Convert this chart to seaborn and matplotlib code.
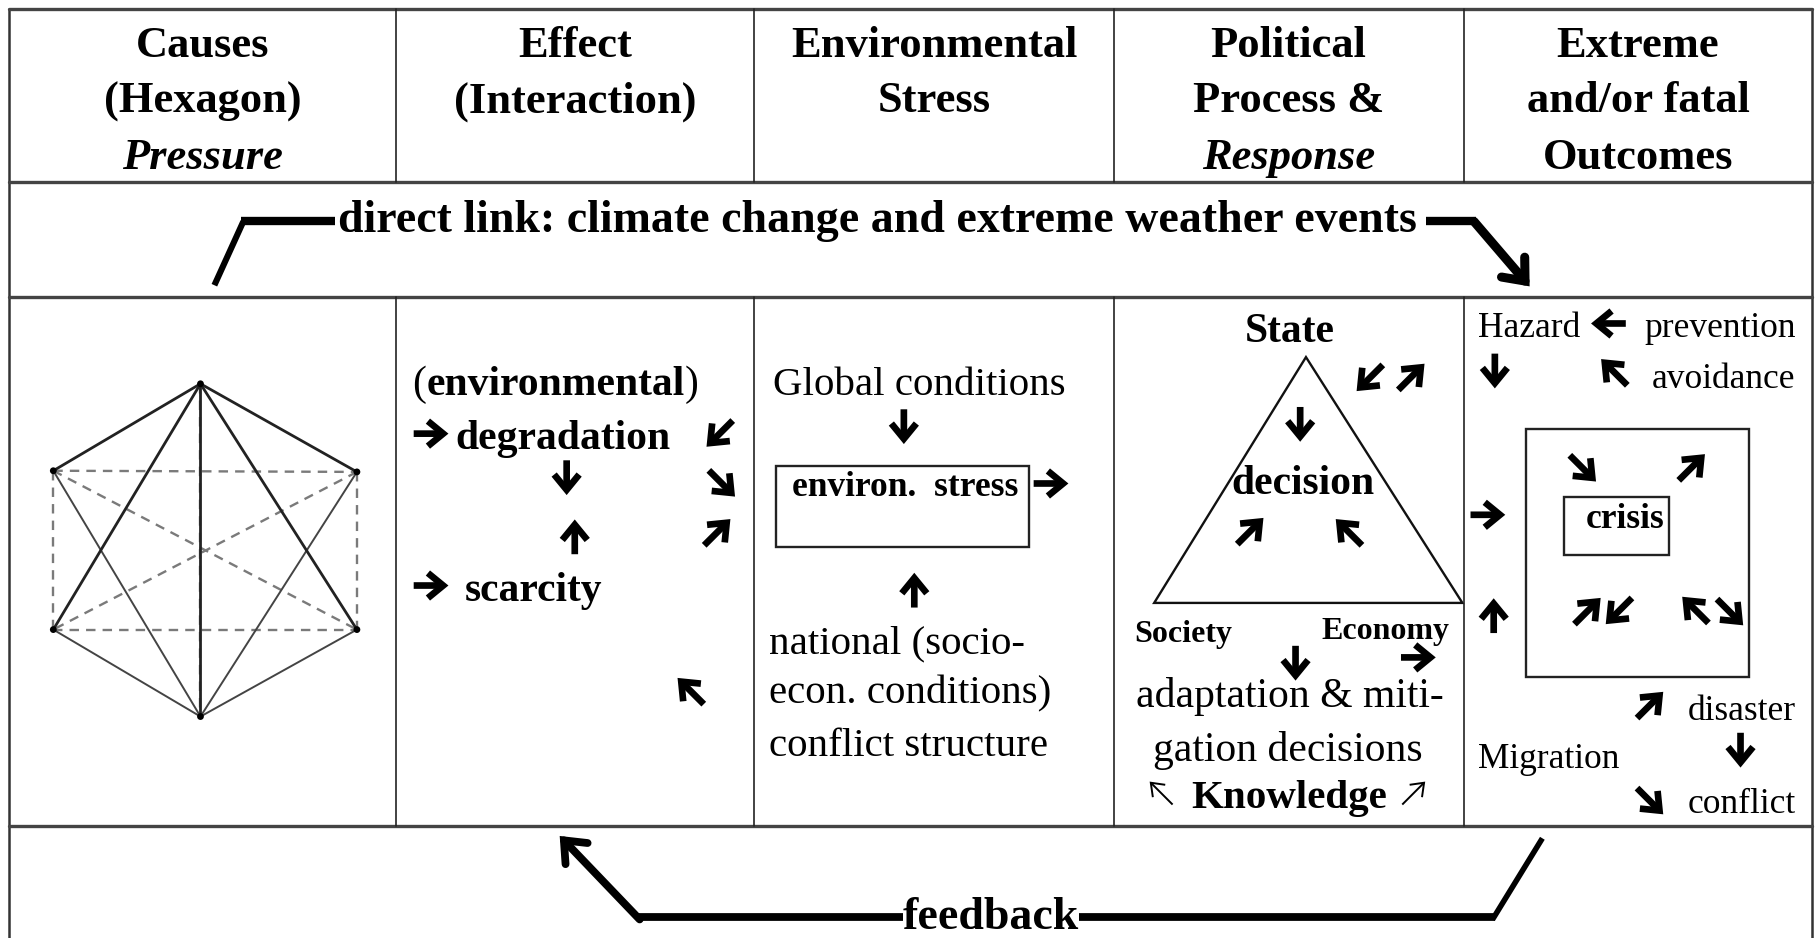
import matplotlib
matplotlib.use("Agg")
import matplotlib.pyplot as plt
import numpy as np
import seaborn as sns
from matplotlib.patches import Rectangle, Polygon

sns.set_theme(style="white")
plt.rcParams["font.family"] = ["Liberation Serif", "DejaVu Serif"]

# layout units (reference pixels, y pointing down)
W, H = 1568, 809

COL_EDGES = [8, 342, 651, 961, 1263, 1564]
ROW_EDGES = [8, 157, 256, 712]

HEADERS = [
    ["Causes", "(Hexagon)", "Pressure"],
    ["Effect", "(Interaction)"],
    ["Environmental", "Stress"],
    ["Political", "Process &", "Response"],
    ["Extreme", "and/or fatal", "Outcomes"],
]
HEADER_ITALIC_LAST = [True, False, False, True, False]

LINK_LABEL = "direct link: climate change and extreme weather events"
FEEDBACK_LABEL = "feedback"

EFFECT_LABELS = ["environmental", "degradation", "scarcity"]
STRESS_LABELS = ["Global conditions", "environ.  stress",
                 "national (socio-", "econ. conditions)", "conflict structure"]
POLITICAL_LABELS = ["State", "decision", "Society", "Economy",
                    "adaptation & miti-", "gation decisions", "Knowledge"]
OUTCOME_LABELS = ["Hazard", "prevention", "avoidance", "crisis",
                  "disaster", "Migration", "conflict"]

# hexagon nodes and edge groups
HEX_NODES = {"T": (173, 331), "UL": (46, 406), "UR": (308, 407),
             "LL": (46, 543), "LR": (308, 543), "B": (173, 618)}
HEX_HEAVY = [("T", "UL"), ("T", "UR"), ("T", "LL"), ("T", "LR"), ("T", "B")]
HEX_LIGHT = [("UL", "B"), ("UR", "B"), ("LL", "B"), ("LR", "B")]
HEX_DASHED = [("UL", "UR"), ("LL", "LR"), ("UL", "LL"), ("UR", "LR"),
              ("UL", "LR"), ("UR", "LL"), ("T", "B")]

# small heavy arrows: centre x, centre y, direction
ARROWS = [
    (372, 374, "E"), (489, 412, "S"), (496, 463, "N"), (372, 505, "E"),
    (621, 374, "SW"), (623, 417, "SE"), (619, 459, "NE"), (596, 596, "NW"),
    (780, 368, "S"), (907, 417, "E"), (789, 509, "N"),
    (1122, 366, "S"), (1079, 458, "NE"), (1164, 459, "NW"),
    (1182, 326, "SW"), (1218, 325, "NE"), (1118, 572, "S"), (1224, 567, "E"),
    (1388, 279, "W"), (1290, 320, "S"), (1393, 321, "NW"), (1284, 444, "E"),
    (1289, 531, "N"), (1366, 404, "SE"), (1460, 403, "NE"),
    (1370, 527, "NE"), (1397, 527, "SW"), (1463, 526, "NW"), (1493, 528, "SE"),
    (1424, 608, "NE"), (1502, 647, "S"), (1424, 691, "SE"),
]
THIN_ARROWS = [(1002, 684, "NW"), (1220, 684, "NE")]

DIRS = {"E": (1, 0), "W": (-1, 0), "S": (0, 1), "N": (0, -1),
        "NE": (1, -1), "NW": (-1, -1), "SE": (1, 1), "SW": (-1, 1)}

fig = plt.figure(figsize=(18.17, 9.38), dpi=100)
ax = fig.add_axes([0, 0, 1, 1])
ax.set_xlim(0, W)
ax.set_ylim(H, 0)
ax.axis("off")
renderer = fig.canvas.get_renderer()


def txt(s, x, y, ha="left", size=30, bold=False, italic=False, **kw):
    return ax.text(x, y, s, ha=ha, va="baseline", fontsize=size,
                   fontweight="bold" if bold else "normal",
                   fontstyle="italic" if italic else "normal",
                   color="black", **kw)


def extent(t):
    bb = t.get_window_extent(renderer).transformed(ax.transData.inverted())
    return min(bb.x0, bb.x1), max(bb.x0, bb.x1)


def arrow(x, y, d, length=None, lw=4.8, ms=20, hl=0.55, hw=0.45):
    ux, uy = DIRS[d]
    n = np.hypot(ux, uy)
    if length is None:
        length = 30 if n == 1 else 32
    ux, uy = ux / n, uy / n
    ax.annotate("", xy=(x + ux * length / 2, y + uy * length / 2),
                xytext=(x - ux * length / 2, y - uy * length / 2),
                arrowprops=dict(arrowstyle=f"->,head_length={hl},head_width={hw}",
                                lw=lw, color="black", shrinkA=0, shrinkB=0,
                                mutation_scale=ms, joinstyle="miter",
                                capstyle="butt"))


# ---------------------------------------------------------------- table grid
ax.plot([COL_EDGES[0], COL_EDGES[0]], [ROW_EDGES[0], H], color="#333", lw=1.8)
ax.plot([COL_EDGES[-1], COL_EDGES[-1]], [ROW_EDGES[0], H], color="#333", lw=1.8)
for yy in ROW_EDGES:
    ax.plot([COL_EDGES[0], COL_EDGES[-1]], [yy, yy], color="#444", lw=2.4)
for xx in COL_EDGES[1:-1]:
    ax.plot([xx, xx], [ROW_EDGES[0], ROW_EDGES[1]], color="#222", lw=1.2)
    ax.plot([xx, xx], [ROW_EDGES[2], ROW_EDGES[3]], color="#222", lw=1.2)

# ---------------------------------------------------------------- headers
for i, lines in enumerate(HEADERS):
    cx = (COL_EDGES[i] + COL_EDGES[i + 1]) / 2
    for j, line in enumerate(lines):
        it = HEADER_ITALIC_LAST[i] and j == len(lines) - 1
        txt(line, cx, [49, 97, 146][j], ha="center", size=32, bold=True, italic=it)

# ---------------------------------------------------------------- direct link row
t = txt(LINK_LABEL, 757, 200, ha="center", size=33, bold=True)
x0, x1 = extent(t)
ax.plot([185, 210], [246, 191], color="black", lw=4.4, solid_capstyle="butt")
ax.plot([208, x0 - 2], [191, 191], color="black", lw=6.0, solid_capstyle="butt")
ax.plot([x1 + 8, 1274], [191, 191], color="black", lw=6.0, solid_capstyle="butt")
ax.annotate("", xy=(1320, 247), xytext=(1272, 191),
            arrowprops=dict(arrowstyle="->,head_length=0.6,head_width=0.5",
                            lw=6.5, color="black", shrinkA=0, shrinkB=0,
                            mutation_scale=22, joinstyle="miter"))

# ---------------------------------------------------------------- feedback row
t = txt(FEEDBACK_LABEL, 855, 801, ha="center", size=33, bold=True)
x0, x1 = extent(t)
ax.plot([550, x0], [791, 791], color="black", lw=5.6, solid_capstyle="butt")
ax.plot([x1, 1290], [791, 791], color="black", lw=5.6, solid_capstyle="butt")
ax.plot([1288, 1331], [793, 723], color="black", lw=4.0, solid_capstyle="butt")
ax.annotate("", xy=(483, 721), xytext=(552, 793),
            arrowprops=dict(arrowstyle="->,head_length=0.6,head_width=0.5",
                            lw=5.6, color="black", shrinkA=0, shrinkB=0,
                            mutation_scale=22, joinstyle="miter"))

# ---------------------------------------------------------------- hexagon
for a, b in HEX_DASHED:
    (xa, ya), (xb, yb) = HEX_NODES[a], HEX_NODES[b]
    ax.plot([xa, xb], [ya, yb], color="#7a7a7a", lw=1.7, ls=(0, (4, 3)))
for a, b in HEX_LIGHT:
    (xa, ya), (xb, yb) = HEX_NODES[a], HEX_NODES[b]
    ax.plot([xa, xb], [ya, yb], color="#444", lw=1.4)
for a, b in HEX_HEAVY:
    (xa, ya), (xb, yb) = HEX_NODES[a], HEX_NODES[b]
    ax.plot([xa, xb], [ya, yb], color="#222", lw=2.0)
hx = [p[0] for p in HEX_NODES.values()]
hy = [p[1] for p in HEX_NODES.values()]
sns.scatterplot(x=hx, y=hy, s=24, color="black", edgecolor="none", ax=ax, zorder=5)

# ---------------------------------------------------------------- effect column
t = txt("(", 356, 341, size=30)
_, e = extent(t)
t = txt(EFFECT_LABELS[0], e, 341, size=30, bold=True)
_, e = extent(t)
txt(")", e, 341, size=30)
txt(EFFECT_LABELS[1], 393, 387, size=30, bold=True)
txt(EFFECT_LABELS[2], 401, 518, size=30, bold=True)

# ---------------------------------------------------------------- stress column
txt(STRESS_LABELS[0], 793, 341, ha="center", size=29.5)
ax.add_patch(Rectangle((670, 402), 218, 70, fill=False, ec="#222", lw=1.7))
txt(STRESS_LABELS[1], 781, 428, ha="center", size=25.5, bold=True)
for s, yy in zip(STRESS_LABELS[2:], [563.5, 607, 652]):
    txt(s, 664, yy, size=29.5)

# ---------------------------------------------------------------- political column
ax.add_patch(Polygon([(1127, 308), (996, 520), (1262, 520)], closed=True,
                     fill=False, ec="#111", lw=1.7))
txt(POLITICAL_LABELS[0], 1113, 295, ha="center", size=30, bold=True)
txt(POLITICAL_LABELS[1], 1124, 426, ha="center", size=30, bold=True)
txt(POLITICAL_LABELS[2], 979, 554, size=23, bold=True)
txt(POLITICAL_LABELS[3], 1140, 551, size=23, bold=True)
txt(POLITICAL_LABELS[4], 1113, 610, ha="center", size=30)
txt(POLITICAL_LABELS[5], 1111, 656.5, ha="center", size=30)
txt(POLITICAL_LABELS[6], 1028, 697, size=29.5, bold=True)

# ---------------------------------------------------------------- outcome column
ax.add_patch(Rectangle((1317, 370), 192, 214, fill=False, ec="#222", lw=1.7))
ax.add_patch(Rectangle((1350, 429), 90, 49.5, fill=False, ec="#222", lw=1.7))
txt(OUTCOME_LABELS[0], 1275.5, 290.5, size=25.5)
txt(OUTCOME_LABELS[1], 1550, 290.5, ha="right", size=25.5)
txt(OUTCOME_LABELS[2], 1549, 335, ha="right", size=25.5)
txt(OUTCOME_LABELS[3], 1402.5, 455.6, ha="center", size=25.5, bold=True)
txt(OUTCOME_LABELS[4], 1550, 620.7, ha="right", size=25.5)
txt(OUTCOME_LABELS[5], 1275.5, 662.4, size=25.5)
txt(OUTCOME_LABELS[6], 1550, 701, ha="right", size=25.5)

# ---------------------------------------------------------------- arrows
for x, y, d in ARROWS:
    arrow(x, y, d)
for x, y, d in THIN_ARROWS:
    arrow(x, y, d, length=28, lw=1.4, ms=14, hl=0.6, hw=0.45)

fig.savefig("out.png", dpi=100, facecolor="white")
plt.close(fig)
